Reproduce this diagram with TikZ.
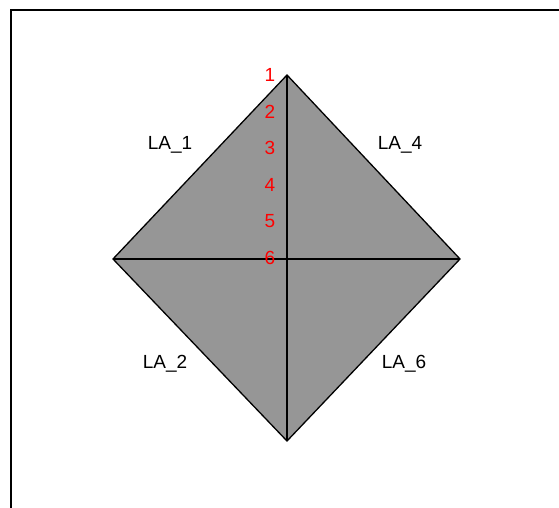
\documentclass[tikz,border=0pt]{standalone}
\usepackage{fontspec}
\setmainfont{Liberation Sans}
\definecolor{PanelGray}{HTML}{969696}
\definecolor{NumRed}{HTML}{FF0000}
\begin{document}
\begin{tikzpicture}[x=1pt,y=-1pt]
  \tikzstyle{lab}=[font=\fontsize{19}{21}\selectfont,inner sep=0pt]
  \tikzstyle{num}=[lab,text=NumRed]
  \useasboundingbox (0,0) rectangle (559,508);
  % frame
  \coordinate (fa) at (11,508);
  \coordinate (fb) at (11,10);
  \coordinate (fc) at (559,10);
  \draw[line width=2pt] (fa) -- (fb) -- (fc);
  % diamond corners
  \coordinate (top) at (287,75);
  \coordinate (lft) at (113,259);
  \coordinate (rgt) at (460,259);
  \coordinate (bot) at (287,441);
  \filldraw[fill=PanelGray,line width=1.3pt] (top) -- (rgt) -- (bot) -- (lft) -- cycle;
  \draw[line width=1.3pt] (lft) -- (rgt);
  \draw[line width=1.3pt] (top) -- (bot);
  % labels
  \node[lab] (la1) at (170,145) {LA\_1};
  \node[lab] (la4) at (400,145) {LA\_4};
  \node[lab] (la2) at (165,364) {LA\_2};
  \node[lab] (la6) at (404,364) {LA\_6};
  \foreach \i in {1,...,6}
    \node[num] (n\i) at (270,{75+36.6*(\i-1)}) {\i};
\end{tikzpicture}
\end{document}
